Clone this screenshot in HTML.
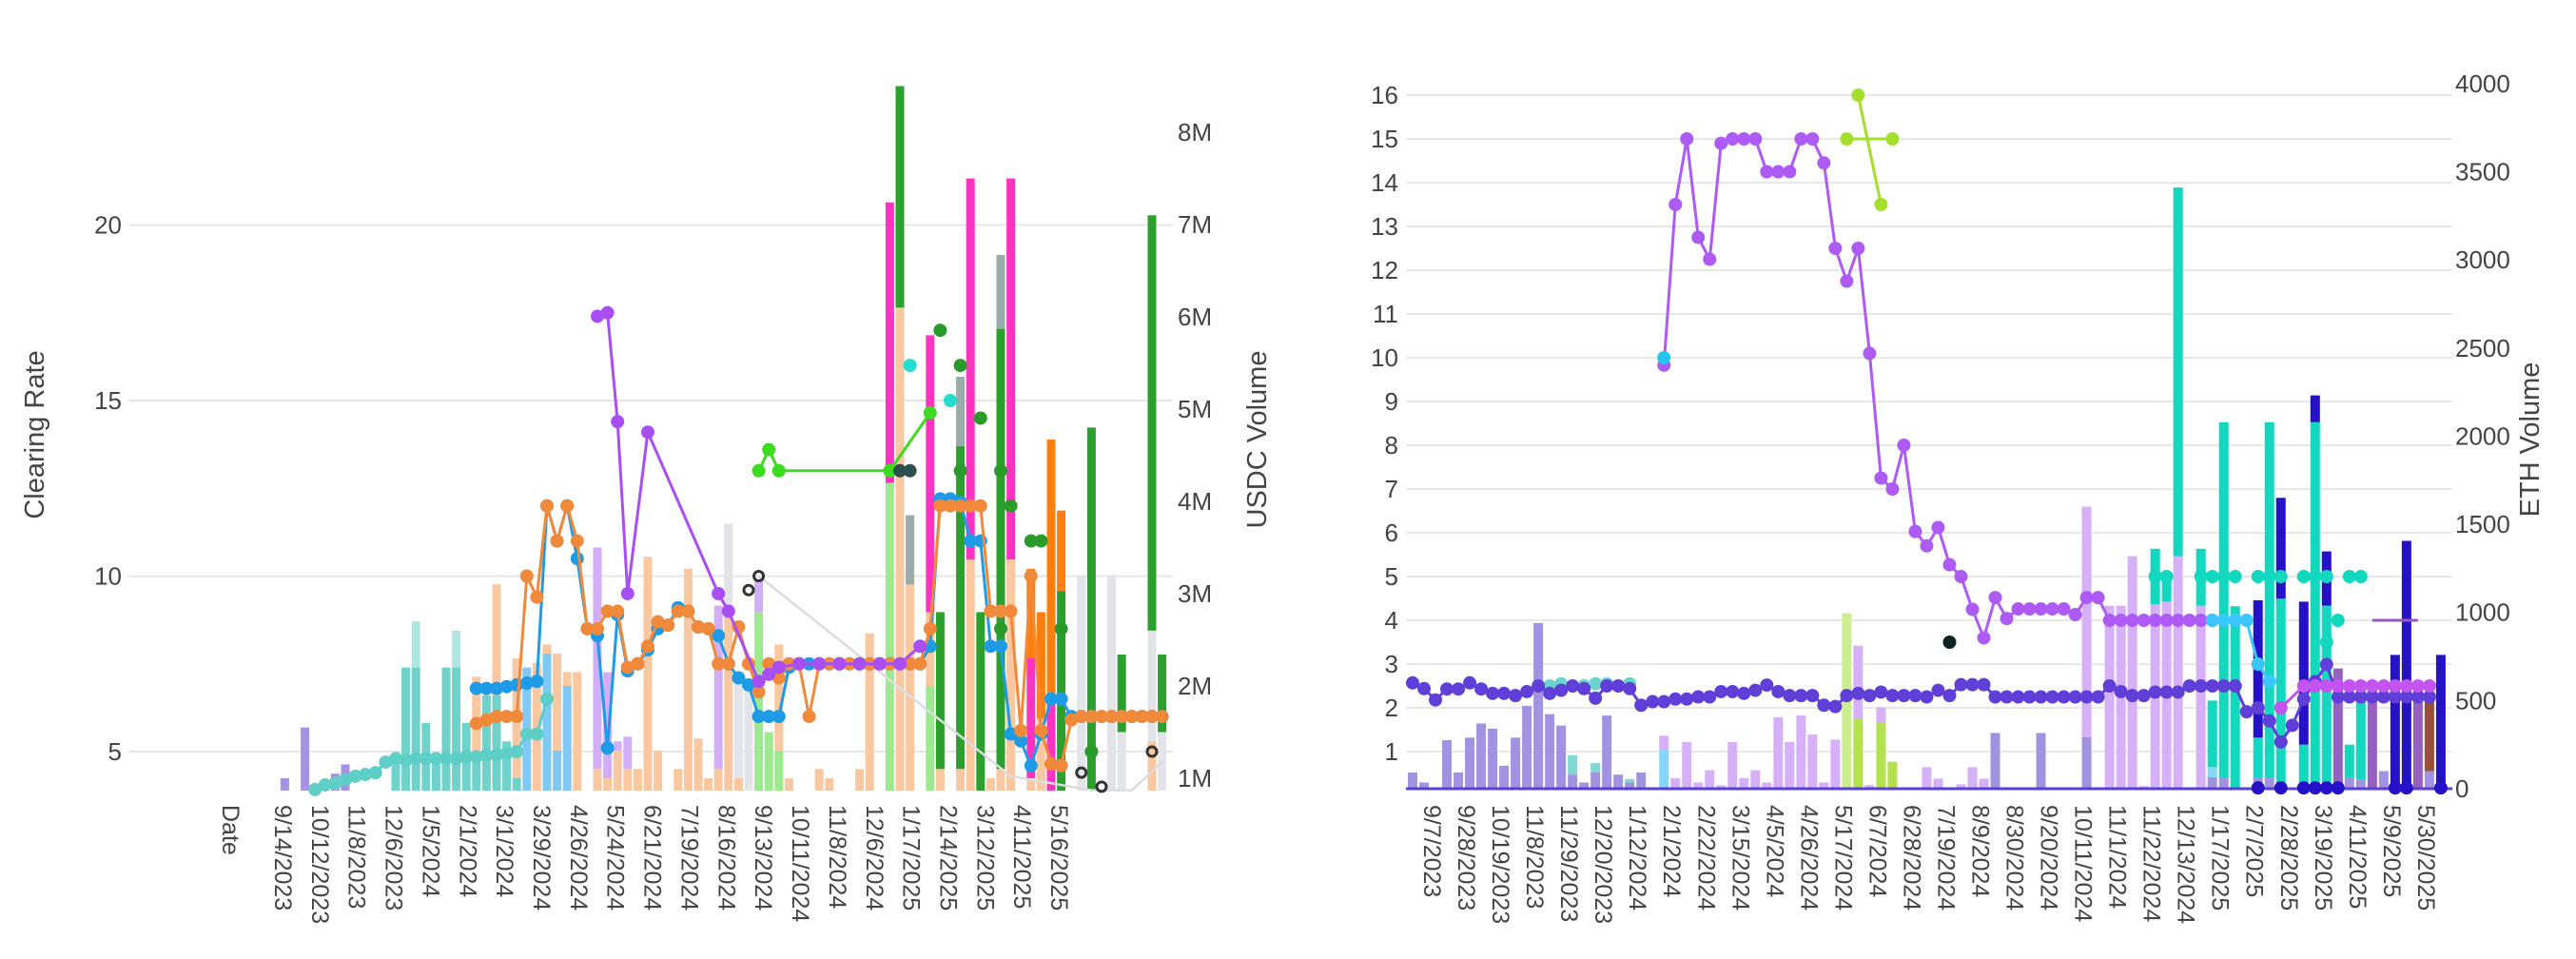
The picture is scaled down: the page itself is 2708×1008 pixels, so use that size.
<!DOCTYPE html>
<html><head><meta charset="utf-8"><title>Clearing Rate charts</title>
<style>
html,body{margin:0;padding:0;background:#fff;}
svg{display:block;font-family:"Liberation Sans",Arial,sans-serif;}
</style></head>
<body>
<svg id="chart" width="2708" height="1008" viewBox="0 0 2708 1008" xmlns="http://www.w3.org/2000/svg">
<rect width="2708" height="1008" fill="#fff"/>
<g id="left-chart"></g>
<g id="right-chart"></g>
</svg>
<script>
// ===== LEFT CHART DATA (USDC) =====
const ticksL = ['Date','9/14/2023','10/12/2023','11/8/2023','12/6/2023','1/5/2024','2/1/2024','3/1/2024','3/29/2024','4/26/2024','5/24/2024','6/21/2024','7/19/2024','8/16/2024','9/13/2024','10/11/2024','11/8/2024','12/6/2024','1/17/2025','2/14/2025','3/12/2025','4/11/2025','5/16/2025'];
const yTicksL = [5,10,15,20];
const y2TicksL = [1,2,3,4,5,6,7,8];
const tealLineIdx = [7,8,9,10,11,12,13,14,15,16,17,18,19,20,21,22,23,24,25,26,27,28,29,30];
const tealLineVal = [3.92,4.05,4.1,4.2,4.3,4.35,4.4,4.7,4.8,4.75,4.8,4.8,4.8,4.8,4.8,4.85,4.85,4.9,4.9,4.95,5.0,5.5,5.5,6.5];
const blueLineIdx = [23,24,25,26,27,28,29,30,31,32,33,34,35,36,37,38,39,40,41,42,43,44,45,46,47,48,49,50,51,52,53,54,55,56,57,58,59,60,61,62,63,64,65,66,67,68,69,70,71,72,73,74,75,76,77,78,79,80,81,82,83,84,85,86,87,88,89,90,91];
const blueLineVal = [6.8,6.8,6.8,6.85,6.9,6.95,7.0,12,11,12,10.5,8.5,8.3,5.1,8.9,7.3,7.5,7.9,8.5,8.6,9.1,9.0,8.55,8.5,8.3,7.5,7.1,6.9,6.0,6.0,6.0,7.4,7.5,7.5,7.5,7.5,7.5,7.5,7.5,7.5,7.5,7.5,7.5,7.5,7.5,8.0,12.2,12.2,12.1,11,11,8.0,8.0,5.5,5.3,4.6,5.5,6.5,6.5,6.0,6.0,6.0,6.0,6.0,6.0,6.0,6.0,6.0,6.0];
const orangeLineIdx = [23,24,25,26,27,28,29,30,31,32,33,34,35,36,37,38,39,40,41,42,43,44,45,46,47,48,49,50,51,52,53,54,55,56,57,58,59,60,61,62,63,64,65,66,67,68,69,70,71,72,73,74,75,76,77,78,79,80,81,82,83,84,85,86,87,88,89,90,91];
const orangeLineVal = [5.8,5.9,6.0,6.0,6.0,10,9.4,12,11,12,11,8.5,8.5,9,9,7.4,7.5,8,8.7,8.6,9.0,9.0,8.55,8.5,7.5,7.5,8.55,7.5,6.7,7.5,7.1,7.5,7.5,6.0,7.5,7.5,7.5,7.5,7.5,7.5,7.5,7.5,7.5,7.5,7.5,8.5,12,12,12,12,12,9,9,9,5.6,10,5.6,4.65,4.6,5.9,6,6,6,6,6,6,6,6,6];
const purpleLineIdx = [35,36,37,38,40,47,48,51,52,53,55,57,59,61,63,65,67];
const purpleLineVal = [17.4,17.5,14.4,9.5,14.1,9.5,9.0,7.0,7.2,7.4,7.5,7.5,7.5,7.5,7.5,7.5,8.0];
const greenLineIdx = [51,52,53,64,68];
const greenLineVal = [13.0,13.6,13.0,13.0,14.65];
const grayLineIdx = [51,76,84,88,91];
const grayLineVal = [10,4.3,3.9,3.9,4.7];
const dkGreenPtIdx = [69,71,73,71,75,76,78,79,81,84,75];
const dkGreenPtVal = [17.0,16.0,14.5,13.0,13.0,12.0,11.0,11.0,8.5,5.0,8.5];
const cyanPtIdx = [66,70];
const cyanPtVal = [16,15];
const slatePtIdx = [65,66];
const slatePtVal = [13,13];
const ringPtIdx = [50,51,83,85,90];
const ringPtVal = [9.6,10,4.4,4.0,5.0];
const barLightGreenIdx = [51,52,53,64,68];
const barLightGreenVal = [2.8,1.5,1.3,4.2,2.0];
const barLightBlueIdx = [28,30,31,32];
const barLightBlueVal = [2.2,2.35,1.3,2.0];
const barTealIdx = [15,16,17,18,19,20,21,22,23,24,25,26,27,66];
const barTealVal = [1.15,2.2,2.2,1.6,1.15,2.2,2.2,1.6,1.2,1.9,1.9,1.4,1.0,0.5];
const barTealLightIdx = [17,21];
const barTealLightVal = [0.5,0.4];
const barPeachIdx = [23,25,27,29,30,31,32,33,35,36,37,38,39,40,41,43,44,45,46,47,48,49,53,54,57,58,61,62,65,66,68,69,71,72,74,75,76,78,79,90];
const barPeachVal = [0.9,1.2,1.3,2.25,0.1,1.05,0.15,2.15,1.1,1.0,1.3,1.1,1.1,3.4,1.3,1.1,3.27,1.43,1.0,1.1,2.76,1.0,1.15,1.0,1.1,1.0,1.1,2.57,6.1,2.6,0.8,1.1,1.1,3.37,1.0,1.1,3.37,1.0,1.65,1.4];
const barLavDarkIdx = [4,6,9,10];
const barLavDarkVal = [1.0,1.55,1.05,1.15];
const barLavLightIdx = [35,36,37,38,47,51];
const barLavLightVal = [2.4,1.15,0.1,0.35,1.77,0.35];
const barLightGrayIdx = [48,49,50,83,86,87,90,91];
const barLightGrayVal = [1.0,1.1,2.0,3.2,3.2,1.5,1.2,1.5];
const barGreenIdx = [65,69,71,73,75,81,84,87,90,91];
const barGreenVal = [2.4,1.7,3.5,2.8,4.77,3.03,4.8,0.84,4.5,0.84];
const barGrayIdx = [66,71,75];
const barGrayVal = [0.75,0.75,0.8];
const barPinkIdx = [64,68,72,76,78,80];
const barPinkVal = [3.04,3.0,4.13,4.13,1.3,1.8];
const barOrangeIdx = [78,79,80,81];
const barOrangeVal = [0.97,1.15,2.87,0.87];

// ===== RIGHT CHART DATA (ETH) =====
const ticksR = ['9/7/2023','9/28/2023','10/19/2023','11/8/2023','11/29/2023','12/20/2023','1/12/2024','2/1/2024','2/22/2024','3/15/2024','4/5/2024','4/26/2024','5/17/2024','6/7/2024','6/28/2024','7/19/2024','8/9/2024','8/30/2024','9/20/2024','10/11/2024','11/1/2024','11/22/2024','12/13/2024','1/17/2025','2/7/2025','2/28/2025','3/19/2025','4/11/2025','5/9/2025','5/30/2025'];
const yTicksR = [1,2,3,4,5,6,7,8,9,10,11,12,13,14,15,16];
const y2TicksR = [0,500,1000,1500,2000,2500,3000,3500,4000];
const darkPurpleVal = [2.57,2.44,2.18,2.43,2.43,2.57,2.43,2.33,2.33,2.28,2.37,2.5,2.33,2.4,2.5,2.44,2.22,2.5,2.5,2.44,2.06,2.14,2.14,2.2,2.2,2.25,2.25,2.37,2.37,2.33,2.4,2.52,2.37,2.28,2.28,2.28,2.06,2.03,2.28,2.33,2.28,2.36,2.28,2.28,2.28,2.25,2.4,2.28,2.53,2.53,2.53,2.25,2.25,2.25,2.25,2.25,2.25,2.25,2.25,2.25,2.25,2.5,2.37,2.28,2.28,2.36,2.36,2.36,2.5,2.5,2.5,2.5,2.5,1.91,2.0,1.7,1.22,1.6,2.2,2.6,2.99,2.25,2.25,2.25,2.25,2.25,2.25,2.25,2.25,2.25];
const brightPurpleIdx = [22,23,24,25,26,27,28,29,30,31,32,33,34,35,36,37,38,39,40,41,42,43,44,45,46,47,48,49,50,51,52,53,54,55,56,57,58,59,60,61,62,63,64,65,66,67,68,69,70];
const brightPurpleVal = [9.83,13.5,15,12.75,12.25,14.9,15,15,15,14.25,14.25,14.25,15,15,14.45,12.5,11.75,12.5,10.1,7.25,7.0,8.0,6.03,5.7,6.12,5.27,5.0,4.25,3.6,4.52,4.04,4.26,4.26,4.26,4.26,4.26,4.13,4.52,4.52,4.0,4.0,4.0,4.0,4.0,4.0,4.0,4.0,4.0,4.0];
const magentaIdx = [76,78,79,80,81,82,83,84,85,86,87,88,89];
const magentaVal = [2.0,2.5,2.5,2.5,2.5,2.5,2.5,2.5,2.5,2.5,2.5,2.5,2.5];
const lightTealIdx = [11,12,13,14,15,16,17,18,19];
const lightTealVal = [2.5,2.5,2.55,2.5,2.5,2.55,2.55,2.5,2.55];
const tealPtIdx = [65,66,69,70,71,72,74,75,76,78,79,80,82,83,80,81];
const tealPtVal = [5,5,5,5,5,5,5,5,5,5,5,5,5,5,3.5,4.0];
const cyanLineIdx = [70,71,72,73,74,75];
const cyanLineVal = [4.0,4.0,4.0,4.0,3.0,2.6];
const limeAIdx = [38,42];
const limeAVal = [15,15];
const limeBIdx = [39,41];
const limeBVal = [16,13.5];
const violetSegIdx = [84,88];
const violetSegVal = [4.0,4.0];
const navyPtIdx = [74,76,78,79,80,81,86,87,90];
const rBarLavIdx = [0,1,2,3,4,5,6,7,8,9,10,11,12,13,14,15,16,17,18,19,20,21,51,55,59,70,71,74,75,79,82,83,85,89];
const rBarLavVal = [92,35,8,275,92,290,370,340,130,290,470,940,423,358,80,35,92,415,80,35,92,8,316,316,293,65,60,60,60,40,65,50,100,100];
const rBarLightBlueIdx = [22,70];
const rBarLightBlueVal = [220,57];
const rBarTealLightIdx = [14,16,19];
const rBarTealLightVal = [110,53,20];
const rBarLimeLightIdx = [38];
const rBarLimeLightVal = [995];
const rBarLimeIdx = [39,41,42];
const rBarLimeVal = [396,372,153];
const rBarLpIdx = [22,23,24,25,26,27,28,29,30,31,32,33,34,35,36,37,39,40,41,45,46,48,49,50,59,60,61,62,63,64,65,66,67,69];
const rBarLpVal = [80,60,265,35,105,20,265,60,105,35,405,265,415,307,35,278,415,20,89,122,57,25,122,57,1307,8,1038,1038,1319,15,1045,1061,1319,1038];
const rBarTealIdx = [65,66,67,69,70,71,72,74,75,76,78,79,80,82,83];
const rBarTealVal = [316,150,2091,323,378,2019,1035,230,2019,1078,250,2039,1038,185,540];
const rBarNavyIdx = [74,76,78,79,80,86,87,90];
const rBarNavyVal = [779,572,811,152,308,759,1406,759];
const rBarMedPurpleIdx = [81,84,88];
const rBarMedPurpleVal = [682,558,558];
const rBarBrownIdx = [89];
const rBarBrownVal = [418];

const NS = 'http://www.w3.org/2000/svg';
function mk(tag, attrs, parent){
  const e = document.createElementNS(NS, tag);
  for (const k in attrs) e.setAttribute(k, attrs[k]);
  parent.appendChild(e);
  return e;
}
const xL = i => 257 + i*10.6;
const yL = v => 790 - (v-5)*36.9;
const y2L = m => 818 - (m-1)*97;
const tickXL = k => k === 0 ? 242 : 297 + (k-1)*38.86;
const xR = i => 1485 + i*12.01;
const yR = v => 836 - v*46;
const y2R = e => 829 - e*0.1853;

function drawBars(g, name, stack, xf, yf, base, w, clipBottom){
  const tops = {};
  stack.forEach(s => {
    s.idx.forEach((ix, k) => {
      const b = tops[ix] || 0;
      const t = b + s.val[k];
      tops[ix] = t;
      let y0 = yf(b), y1 = yf(t);
      if (y0 > clipBottom) y0 = clipBottom;
      if (y1 >= y0) return;
      const r = mk('rect', {x: xf(ix)-w/2, y: y1, width: w, height: y0-y1, fill: s.color}, g);
      
      
    });
  });
}
function drawLine(g, name, idx, val, xf, yf, color, lw, mr, markers){
  const pts = idx.map((ix,k) => xf(ix).toFixed(1)+','+yf(val[k]).toFixed(1)).join(' ');
  const pl = mk('polyline', {points: pts, fill:'none', stroke: color, 'stroke-width': lw, 'stroke-linejoin':'round'}, g);
  
  
  if (markers !== false) idx.forEach((ix,k) => {
    const c = mk('circle', {cx: xf(ix), cy: yf(val[k]), r: mr, fill: color}, g);
    
    
  });
}
function drawPoints(g, name, idx, val, xf, yf, color, r, ring){
  idx.forEach((ix,k) => {
    const a = ring ? {cx: xf(ix), cy: yf(val[k]), r: r, fill:'none', stroke: color, 'stroke-width': 3}
                   : {cx: xf(ix), cy: yf(val[k]), r: r, fill: color};
    const c = mk('circle', a, g);
    
    
  });
}
function txt(g, name, s, attrs){
  const t = mk('text', attrs, g);
  t.textContent = s;
  
  
  return t;
}

(function(){
  const g = document.getElementById('left-chart');
  yTicksL.forEach(v => {
    const l = mk('line', {x1:135, x2:1233, y1:yL(v), y2:yL(v), stroke:'#e6e6e6', 'stroke-width':2}, g);
    
    
    txt(g, 'y-tick-' + v, String(v), {x:128, y:yL(v)+9, 'text-anchor':'end', 'font-size':26, fill:'#444'});
  });
  y2TicksL.forEach(m => {
    txt(g, 'y2-tick-' + m + 'm', m + 'M', {x:1238, y:y2L(m)+9, 'font-size':26, fill:'#444'});
  });
  ticksL.forEach((s,k) => {
    const x = tickXL(k);
    txt(g, 'x-tick-label', s, {x:0, y:0, transform:'translate('+x+',846) rotate(90)', 'dominant-baseline':'central', 'font-size':25, fill:'#444'});
  });
  txt(g, 'y-axis-title', 'Clearing Rate', {x:0, y:0, transform:'translate(37,457) rotate(-90)', 'text-anchor':'middle', 'dominant-baseline':'central', 'font-size':29, fill:'#444'});
  txt(g, 'y2-axis-title', 'USDC Volume', {x:0, y:0, transform:'translate(1322,462) rotate(-90)', 'text-anchor':'middle', 'dominant-baseline':'central', 'font-size':29, fill:'#444'});
  const bars = mk('g', {}, g);
  
  
  drawBars(bars, 'bar', [
    {name:'lightgreen', idx:barLightGreenIdx, val:barLightGreenVal, color:'#9ce98f'},
    {name:'lightblue', idx:barLightBlueIdx, val:barLightBlueVal, color:'#7fc9f4'},
    {name:'teal', idx:barTealIdx, val:barTealVal, color:'#6fd3cc'},
    {name:'teal-light', idx:barTealLightIdx, val:barTealLightVal, color:'#aee6e2'},
    {name:'peach', idx:barPeachIdx, val:barPeachVal, color:'#f9c7a0'},
    {name:'lavender-dark', idx:barLavDarkIdx, val:barLavDarkVal, color:'#a592e4'},
    {name:'lavender', idx:barLavLightIdx, val:barLavLightVal, color:'#d3aef8'},
    {name:'lightgray', idx:barLightGrayIdx, val:barLightGrayVal, color:'#e3e4e9'},
    {name:'green', idx:barGreenIdx, val:barGreenVal, color:'#2ca02c'},
    {name:'gray', idx:barGrayIdx, val:barGrayVal, color:'#9aabab'},
    {name:'pink', idx:barPinkIdx, val:barPinkVal, color:'#ff33c2'},
    {name:'orange', idx:barOrangeIdx, val:barOrangeVal, color:'#ff7f0e'}
  ], xL, y2L, 0, 9, 831);
  const lines = mk('g', {}, g);
  
  
  drawLine(lines, 'gray-series', grayLineIdx, grayLineVal, xL, yL, '#dcdde3', 2.5, 0, false);
  drawLine(lines, 'teal-series', tealLineIdx, tealLineVal, xL, yL, '#5ecfc7', 3, 7);
  drawLine(lines, 'blue-series', blueLineIdx, blueLineVal, xL, yL, '#1d9be6', 3, 7);
  drawLine(lines, 'orange-series', orangeLineIdx, orangeLineVal, xL, yL, '#f08a3a', 3, 7);
  drawLine(lines, 'purple-series', purpleLineIdx, purpleLineVal, xL, yL, '#a94ef5', 3, 7);
  drawLine(lines, 'green-series', greenLineIdx, greenLineVal, xL, yL, '#3cdb1f', 3, 7);
  drawPoints(lines, 'dark-green-point', dkGreenPtIdx, dkGreenPtVal, xL, yL, '#2a9a2a', 7);
  drawPoints(lines, 'cyan-point', cyanPtIdx, cyanPtVal, xL, yL, '#22ddd0', 7);
  drawPoints(lines, 'slate-point', slatePtIdx, slatePtVal, xL, yL, '#2f4f4f', 7);
  drawPoints(lines, 'ring-point', ringPtIdx, ringPtVal, xL, yL, '#333', 5, true);
})();

(function(){
  const g = document.getElementById('right-chart');
  yTicksR.forEach(v => {
    const l = mk('line', {x1:1478, x2:2578, y1:yR(v), y2:yR(v), stroke:'#e8e8e8', 'stroke-width':2}, g);
    
    
    txt(g, 'y-tick-' + v, String(v), {x:1470, y:yR(v)+9, 'text-anchor':'end', 'font-size':26, fill:'#444'});
  });
  y2TicksR.forEach(e => {
    txt(g, 'y2-tick-' + e, String(e), {x:2581, y:y2R(e)+9, 'font-size':26, fill:'#444'});
  });
  ticksR.forEach((s,k) => {
    const x = xR(2 + k*3) - 4;
    txt(g, 'x-tick-label', s, {x:0, y:0, transform:'translate('+x+',846) rotate(90)', 'dominant-baseline':'central', 'font-size':25, fill:'#444'});
  });
  txt(g, 'y2-axis-title', 'ETH Volume', {x:0, y:0, transform:'translate(2660,462) rotate(-90)', 'text-anchor':'middle', 'dominant-baseline':'central', 'font-size':29, fill:'#444'});
  const bars = mk('g', {}, g);
  
  
  drawBars(bars, 'bar', [
    {name:'lavender', idx:rBarLavIdx, val:rBarLavVal, color:'#a193e2'},
    {name:'lightblue', idx:rBarLightBlueIdx, val:rBarLightBlueVal, color:'#84d6fb'},
    {name:'teal-light', idx:rBarTealLightIdx, val:rBarTealLightVal, color:'#7fd9d2'},
    {name:'lime-light', idx:rBarLimeLightIdx, val:rBarLimeLightVal, color:'#cdee8e'},
    {name:'lime', idx:rBarLimeIdx, val:rBarLimeVal, color:'#b4e24c'},
    {name:'light-purple', idx:rBarLpIdx, val:rBarLpVal, color:'#d6b0f9'},
    {name:'teal', idx:rBarTealIdx, val:rBarTealVal, color:'#12d8bf'},
    {name:'navy', idx:rBarNavyIdx, val:rBarNavyVal, color:'#2512c8'},
    {name:'medium-purple', idx:rBarMedPurpleIdx, val:rBarMedPurpleVal, color:'#9660c0'},
    {name:'brown', idx:rBarBrownIdx, val:rBarBrownVal, color:'#9a5038'}
  ], xR, y2R, 0, 10, 829);
  const ax = mk('line', {x1:1478, x2:2578, y1:829, y2:829, stroke:'#5a3fd5', 'stroke-width':3}, g);
  
  
  const lines = mk('g', {}, g);
  
  
  const dpIdx = darkPurpleVal.map((v,i) => i);
  drawLine(lines, 'light-teal-series', lightTealIdx, lightTealVal, xR, yR, '#6ad3cc', 3, 7);
  drawLine(lines, 'dark-purple-series', dpIdx, darkPurpleVal, xR, yR, '#5f3fd8', 3, 7);
  drawLine(lines, 'bright-purple-series', brightPurpleIdx, brightPurpleVal, xR, yR, '#ad5af6', 3, 7);
  drawLine(lines, 'magenta-series', magentaIdx, magentaVal, xR, yR, '#c454f0', 3, 7);
  drawLine(lines, 'cyan-series', cyanLineIdx, cyanLineVal, xR, yR, '#3cc6ff', 3, 7);
  drawLine(lines, 'lime-series-a', limeAIdx, limeAVal, xR, yR, '#a4e02a', 3, 7);
  drawLine(lines, 'lime-series-b', limeBIdx, limeBVal, xR, yR, '#a4e02a', 3, 7);
  drawLine(lines, 'violet-segment', violetSegIdx, violetSegVal, xR, yR, '#8e5cc0', 3, 0, false);
  drawPoints(lines, 'teal-point', tealPtIdx, tealPtVal, xR, yR, '#12d8bf', 7);
  drawPoints(lines, 'cyan-point', [22], [10], xR, yR, '#22c8f0', 7);
  drawPoints(lines, 'black-point', [47], [3.5], xR, yR, '#0d2424', 7);
  drawPoints(lines, 'navy-point', navyPtIdx, navyPtIdx.map(() => 0.17), xR, yR, '#2512c8', 7);
})();
</script>
</body></html>
